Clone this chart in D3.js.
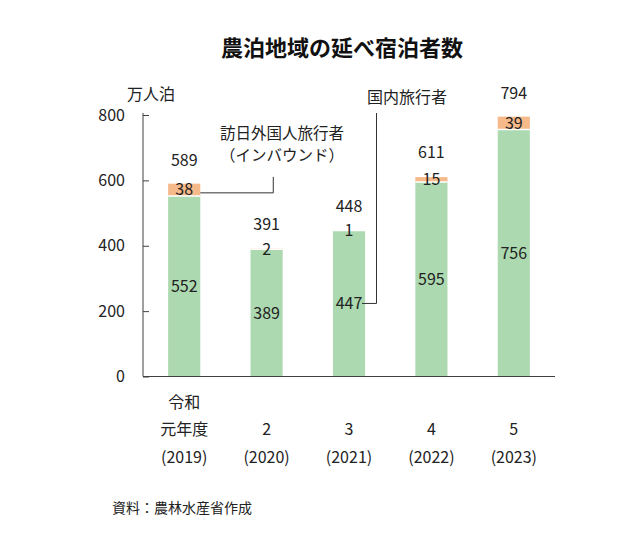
<!DOCTYPE html>
<html>
<head>
<meta charset="utf-8">
<script src="https://cdn.jsdelivr.net/npm/d3@7"></script>
<style>
  body { margin: 0; background: #fff; }
  text { font-family: "Noto Sans CJK JP", "Noto Sans", sans-serif; fill: #222; }
</style>
</head>
<body>
<script>
// Data
const years = ["2019", "2020", "2021", "2022", "2023"];
const eraLabels = ["元年度", "2", "3", "4", "5"];
const domestic = [552, 389, 447, 595, 756];
const inbound = [38, 2, 1, 15, 39];
const totals = [589, 391, 448, 611, 794];
const yTicks = [0, 200, 400, 600, 800];

const width = 634, height = 548;
const green = "#acd9b0", orange = "#f6b98a", axisColor = "#404040";

const svg = d3.select("body").append("svg")
  .attr("width", width)
  .attr("height", height);

const x = d3.scaleBand()
  .domain(years)
  .range([143, 555])
  .paddingInner(0.61)
  .paddingOuter(0.305);

const y = d3.scaleLinear()
  .domain([0, 800])
  .range([376.5, 115]);

// Title
svg.append("text")
  .attr("x", 342).attr("y", 48)
  .attr("dy", "0.35em")
  .attr("text-anchor", "middle")
  .attr("font-size", 22).attr("font-weight", "bold")
  .style("fill", "#111")
  .text("農泊地域の延べ宿泊者数");

// Unit
svg.append("text")
  .attr("x", 127).attr("y", 94)
  .attr("dy", "0.35em")
  .attr("font-size", 16)
  .text("万人泊");

// Bars
const stack = years.map((yr, i) => ({ yr, d: domestic[i], b: inbound[i], t: totals[i] }));

svg.selectAll("rect.dom").data(stack).enter().append("rect")
  .attr("class", "dom")
  .attr("x", d => x(d.yr))
  .attr("width", x.bandwidth())
  .attr("y", d => y(d.d))
  .attr("height", d => y(0) - y(d.d))
  .attr("fill", green);

svg.selectAll("rect.inb").data(stack).enter().append("rect")
  .attr("class", "inb")
  .attr("x", d => x(d.yr))
  .attr("width", x.bandwidth())
  .attr("y", d => y(d.d + d.b))
  .attr("height", d => y(d.d) - y(d.d + d.b))
  .attr("fill", orange);

// white separator between segments
svg.selectAll("line.sep").data(stack).enter().append("line")
  .attr("x1", d => x(d.yr))
  .attr("x2", d => x(d.yr) + x.bandwidth())
  .attr("y1", d => y(d.d))
  .attr("y2", d => y(d.d))
  .attr("stroke", "#fff").attr("stroke-width", 1.5);

// Axes
const yAxis = svg.append("g")
  .attr("transform", "translate(143,0)")
  .call(d3.axisLeft(y).tickValues(yTicks).tickSizeInner(-6).tickSizeOuter(0).tickPadding(18));
yAxis.select(".domain").attr("stroke", axisColor).attr("d", `M0,${y(0)}V${y(800) - 2}`);
yAxis.selectAll(".tick line").attr("stroke", axisColor);
yAxis.selectAll(".tick text")
  .attr("font-size", 16)
  .style("font-family", "'Noto Sans CJK JP', sans-serif")
  .style("fill", "#222");

svg.append("line")
  .attr("x1", 143).attr("x2", 555)
  .attr("y1", y(0)).attr("y2", y(0))
  .attr("stroke", axisColor).attr("stroke-width", 1.2);

// X labels
const cx = d => x(d) + x.bandwidth() / 2;
svg.append("text")
  .attr("x", cx(years[0])).attr("y", 402)
  .attr("dy", "0.35em").attr("text-anchor", "middle")
  .attr("font-size", 16).text("令和");
svg.selectAll("text.era").data(years).enter().append("text")
  .attr("x", d => cx(d)).attr("y", 429)
  .attr("dy", "0.35em").attr("text-anchor", "middle")
  .attr("font-size", 16)
  .text((d, i) => eraLabels[i]);
svg.selectAll("text.yr").data(years).enter().append("text")
  .attr("x", d => cx(d)).attr("y", 457)
  .attr("dy", "0.35em").attr("text-anchor", "middle")
  .attr("font-size", 16)
  .text(d => `(${d})`);

// Value labels
svg.selectAll("text.dv").data(stack).enter().append("text")
  .attr("x", d => cx(d.yr)).attr("y", d => (y(0) + y(d.d)) / 2)
  .attr("dy", "0.35em").attr("text-anchor", "middle")
  .attr("font-size", 16).text(d => d.d);
svg.selectAll("text.bv").data(stack).enter().append("text")
  .attr("x", d => cx(d.yr)).attr("y", d => (y(d.d) + y(d.d + d.b)) / 2)
  .attr("dy", "0.35em").attr("text-anchor", "middle")
  .attr("font-size", 16).text(d => d.b);
svg.selectAll("text.tv").data(stack).enter().append("text")
  .attr("x", d => cx(d.yr)).attr("y", d => y(d.t) - 24)
  .attr("dy", "0.35em").attr("text-anchor", "middle")
  .attr("font-size", 16).text(d => d.t);

// Callouts
const s0 = stack[0], s2 = stack[2];
const ib0 = (y(s0.d) + y(s0.d + s0.b)) / 2 + 3;
const ibX = x(s0.yr) + x.bandwidth();
svg.append("path")
  .attr("d", `M${ibX},${ib0}H${ibX + 73}V${ib0 - 16}`)
  .attr("fill", "none").attr("stroke", "#333").attr("stroke-width", 1);
svg.append("text")
  .attr("x", 282).attr("y", 134).attr("dy", "0.35em")
  .attr("text-anchor", "middle").attr("font-size", 15.5)
  .text("訪日外国人旅行者");
svg.append("text")
  .attr("x", 282).attr("y", 156).attr("dy", "0.35em")
  .attr("text-anchor", "middle").attr("font-size", 15.5)
  .text("（インバウンド）");

const dm2 = (y(0) + y(s2.d)) / 2;
const dmX = cx(s2.yr) + 13;
svg.append("path")
  .attr("d", `M${dmX},${dm2}H${dmX + 14.5}V113`)
  .attr("fill", "none").attr("stroke", "#333").attr("stroke-width", 1);
svg.append("text")
  .attr("x", 407).attr("y", 97).attr("dy", "0.35em")
  .attr("text-anchor", "middle").attr("font-size", 16)
  .text("国内旅行者");

// Source
svg.append("text")
  .attr("x", 112).attr("y", 508).attr("dy", "0.35em")
  .attr("font-size", 14)
  .text("資料：農林水産省作成");
</script>
</body>
</html>
